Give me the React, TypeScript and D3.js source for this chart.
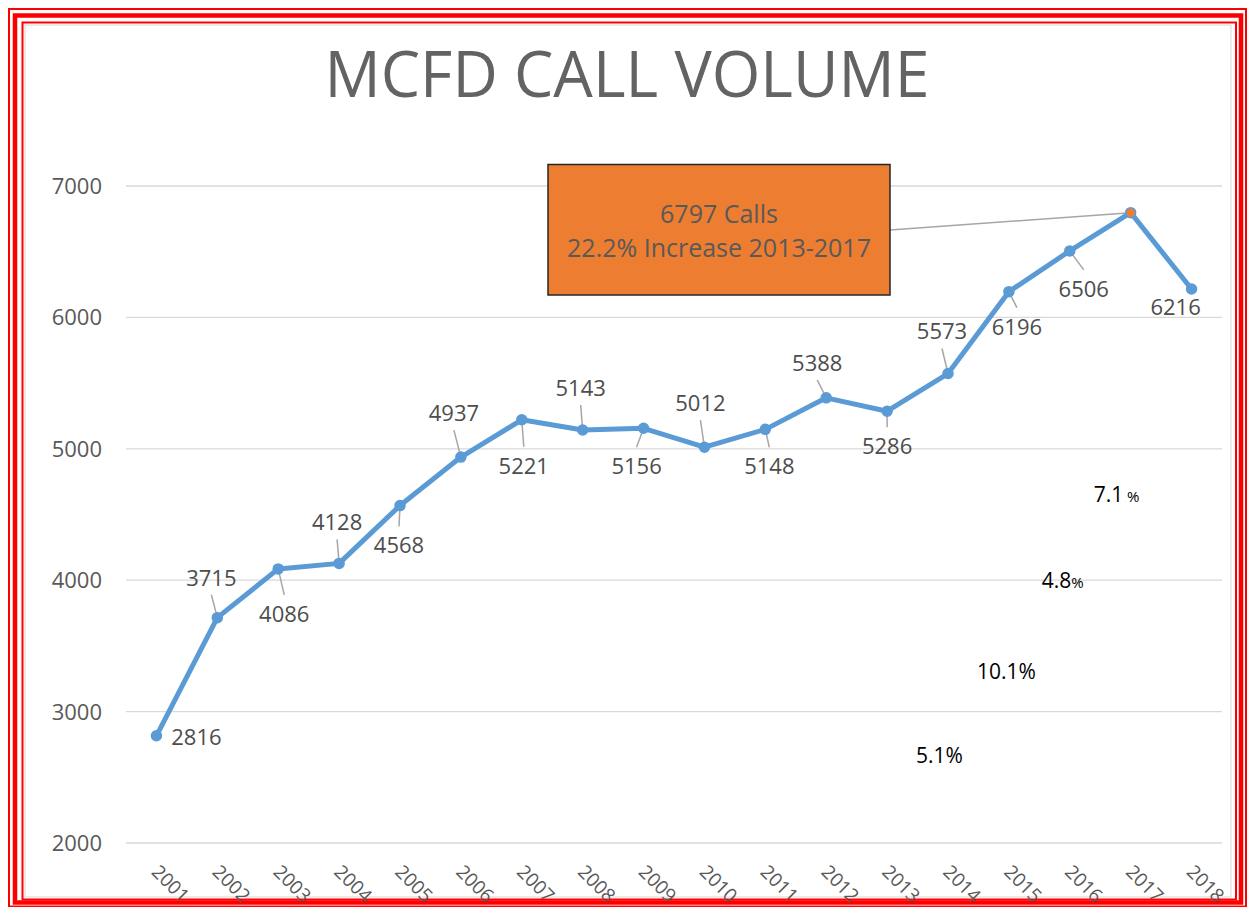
import React from "react";
import * as d3 from "d3";

const years = [
  "2001", "2002", "2003", "2004", "2005", "2006", "2007", "2008", "2009",
  "2010", "2011", "2012", "2013", "2014", "2015", "2016", "2017", "2018",
];
const calls = [
  2816, 3715, 4086, 4128, 4568, 4937, 5221, 5143, 5156,
  5012, 5148, 5388, 5286, 5573, 6196, 6506, 6797, 6216,
];
const yTicks = [2000, 3000, 4000, 5000, 6000, 7000];
const title = "MCFD CALL VOLUME";
const calloutYear = "2017";
const calloutLines = ["6797 Calls", "22.2% Increase 2013-2017"];
const growthYears = ["2014", "2015", "2016", "2017"];
const growthValues = ["5.1", "10.1", "4.8", "7.1"];
const growthSuffix = ["%", "%", "%", " %"];

// label placement relative to its point (centre of text), null = no label
const labelOffsets: ([number, number] | null)[] = [
  [40, 1], [-6, -40], [6, 45], [-2, -41], [-1, 40], [-7, -44], [2, 46], [-2, -42], [-7, 38],
  [-4, -44], [4, 37], [-9, -35], [0, 35], [-6, -42], [8, 35], [14, 38], null, [-16, 18],
];
const noLeader = ["2001", "2018"];
// growth text: start x offset from year, baseline y, smaller percent sign?
const growthLayout: [number, number, boolean][] = [
  [-32, 763, false], [-32, 679, false], [-28, 588, true], [-37, 502, true],
];

const FONT = "'Open Sans', sans-serif";

export default function App() {
  const width = 1248;
  const height = 907;
  const plotLeft = 126;
  const plotRight = 1222;
  const svgRef = React.useRef<SVGSVGElement>(null);

  React.useEffect(() => {
    const svg = d3.select(svgRef.current);
    svg.selectAll("*").remove();

    const x = d3.scalePoint().domain(years).range([plotLeft, plotRight]).padding(0.5);
    const y = d3.scaleLinear().domain([2000, 7000]).range([843, 186]);
    const data = years.map((yr, i) => ({ yr, v: calls[i], off: labelOffsets[i] }));

    svg.append("rect").attr("width", width).attr("height", height).attr("fill", "#fff");

    // frame
    svg.append("rect").attr("x", 25).attr("y", 25).attr("width", 1206).attr("height", 872)
      .attr("fill", "none").attr("stroke", "#d9d9d9").attr("stroke-width", 1);
    const frames = [
      { x0: 9, y0: 9, x1: 1246, y1: 906.5, w: 2 },
      { x0: 15, y0: 15.5, x1: 1241, y1: 902.5, w: 4.5 },
      { x0: 22.5, y0: 22.5, x1: 1236, y1: 899.5, w: 2 },
    ];
    frames.forEach((f) => {
      svg.append("rect").attr("x", f.x0).attr("y", f.y0)
        .attr("width", f.x1 - f.x0).attr("height", f.y1 - f.y0)
        .attr("fill", "none").attr("stroke", "#ff0000").attr("stroke-width", f.w);
    });

    // title
    svg.append("text").attr("x", 627).attr("y", 97).attr("text-anchor", "middle")
      .attr("font-family", FONT).attr("font-size", 64).attr("fill", "#636363")
      .attr("textLength", 605).attr("lengthAdjust", "spacingAndGlyphs")
      .text(title);

    // grid + y axis
    const grid = svg.append("g");
    grid.selectAll("line").data(yTicks).join("line")
      .attr("x1", plotLeft).attr("x2", plotRight)
      .attr("y1", (d) => y(d)).attr("y2", (d) => y(d))
      .attr("stroke", "#d9d9d9").attr("stroke-width", 1.3);
    grid.selectAll("text").data(yTicks).join("text")
      .attr("x", 102).attr("y", (d) => y(d)).attr("dy", "0.36em")
      .attr("text-anchor", "end").attr("font-family", FONT).attr("font-size", 22)
      .attr("fill", "#595959").text((d) => d);

    // x labels
    svg.append("g").selectAll("text").data(years).join("text")
      .attr("transform", (d) => `translate(${(x(d) as number) - 6},873) rotate(45)`)
      .attr("font-family", FONT).attr("font-size", 19).attr("fill", "#595959")
      .text((d) => d);

    // leader lines
    svg.append("g").selectAll("line")
      .data(data.filter((d) => d.off && !noLeader.includes(d.yr)))
      .join("line")
      .attr("x1", (d) => x(d.yr) as number).attr("y1", (d) => y(d.v))
      .attr("x2", (d) => (x(d.yr) as number) + d.off![0])
      .attr("y2", (d) => y(d.v) + d.off![1] + (d.off![1] < 0 ? 17 : -19))
      .attr("stroke", "#a6a6a6").attr("stroke-width", 1.5);

    // callout connector
    const cx = x(calloutYear) as number;
    const cv = calls[years.indexOf(calloutYear)];
    svg.append("line").attr("x1", 890).attr("y1", 230).attr("x2", cx).attr("y2", y(cv))
      .attr("stroke", "#a6a6a6").attr("stroke-width", 1.5);

    // line
    const line = d3.line<{ yr: string; v: number }>()
      .x((d) => x(d.yr) as number).y((d) => y(d.v));
    svg.append("path").datum(data).attr("d", line)
      .attr("fill", "none").attr("stroke", "#5b9bd5").attr("stroke-width", 5)
      .attr("stroke-linejoin", "round");

    svg.append("g").selectAll("circle").data(data).join("circle")
      .attr("cx", (d) => x(d.yr) as number).attr("cy", (d) => y(d.v)).attr("r", 5)
      .attr("fill", (d) => (d.yr === calloutYear ? "#ed7d31" : "#5b9bd5"))
      .attr("stroke", "#5b9bd5").attr("stroke-width", 1.5);

    // data labels
    svg.append("g").selectAll("text").data(data.filter((d) => d.off)).join("text")
      .attr("x", (d) => (x(d.yr) as number) + d.off![0])
      .attr("y", (d) => y(d.v) + d.off![1]).attr("dy", "0.36em")
      .attr("text-anchor", "middle").attr("font-family", FONT).attr("font-size", 22)
      .attr("fill", "#4d4d4d").text((d) => d.v);

    // callout box
    svg.append("rect").attr("x", 548).attr("y", 164.5).attr("width", 342).attr("height", 130.5)
      .attr("fill", "#ed7d31").attr("stroke", "#262626").attr("stroke-width", 1.5);
    calloutLines.forEach((t, i) => {
      svg.append("text").attr("x", 719).attr("y", 223 + i * 34).attr("text-anchor", "middle")
        .attr("font-family", FONT).attr("font-size", 25).attr("fill", "#595959").text(t);
    });

    // growth percentages
    growthYears.forEach((yr, i) => {
      const [dx, by, small] = growthLayout[i];
      const t = svg.append("text").attr("x", (x(yr) as number) + dx).attr("y", by)
        .attr("font-family", FONT).attr("font-size", 21).attr("fill", "#000");
      t.append("tspan").text(growthValues[i]);
      t.append("tspan").attr("font-size", small ? 15 : 21).text(growthSuffix[i]);
    });
  }, []);

  return (
    <svg
      ref={svgRef}
      width={width}
      height={height}
      style={{ position: "absolute", left: 0, top: 0, display: "block" }}
    />
  );
}
